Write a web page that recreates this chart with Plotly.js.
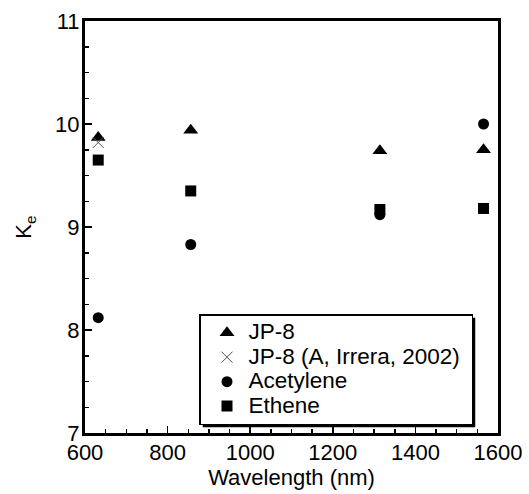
<!DOCTYPE html>
<html>
<head>
<meta charset="utf-8">
<script src="https://cdn.plot.ly/plotly-3.0.1.min.js"></script>
<style>html,body{margin:0;padding:0;background:#fff;}#chart{width:529px;height:494px;}</style>
</head>
<body>
<div id="chart"></div>
<script>
const jp8X = [632, 856, 1314, 1565];
const jp8Y = [9.87, 9.94, 9.74, 9.75];
const irreraX = [632];
const irreraY = [9.82];
const acetyleneX = [632, 856, 1314, 1565];
const acetyleneY = [8.12, 8.83, 9.12, 10.0];
const etheneX = [632, 856, 1314, 1565];
const etheneY = [9.65, 9.35, 9.17, 9.18];
const names = ["JP-8", "JP-8 (A, Irrera, 2002)&nbsp;", "Acetylene", "Ethene"];

const font = "Liberation Sans, Arial, sans-serif";
const big = n => '<span style="font-size:22.5px">' + n + '</span>';
const traces = [
  {x: jp8X, y: jp8Y, name: big(names[0]), mode: "markers", type: "scatter",
   marker: {symbol: "triangle-up", size: 13, color: "#000"}},
  {x: irreraX, y: irreraY, name: big(names[1]), mode: "markers", type: "scatter",
   marker: {symbol: "x-thin-open", size: 11, color: "#555", line: {width: 1, color: "#555"}}},
  {x: acetyleneX, y: acetyleneY, name: big(names[2]), mode: "markers", type: "scatter",
   marker: {symbol: "circle", size: 11, color: "#000"}},
  {x: etheneX, y: etheneY, name: big(names[3]), mode: "markers", type: "scatter",
   marker: {symbol: "square", size: 11, color: "#000"}}
];

const px = v => (v - 85) / 413;
const py = v => (433 - v) / 412;

const layout = {
  width: 529, height: 494,
  margin: {l: 85, r: 31, t: 21, b: 61},
  paper_bgcolor: "#fff", plot_bgcolor: "#fff",
  font: {family: font, size: 22, color: "#000"},
  showlegend: true,
  legend: {x: px(199), y: py(314), xanchor: "left", yanchor: "top",
    bgcolor: "#fff", bordercolor: "#000", borderwidth: 1.5,
    indentation: 5, itemwidth: 33,
    font: {family: font, size: 16.5, color: "#000"}, tracegroupgap: 0},
  xaxis: {range: [600, 1600], tickmode: "linear", tick0: 600, dtick: 200,
    ticks: "inside", ticklen: 7, tickwidth: 1.5, tickcolor: "#000",
    minor: {dtick: 50, ticks: "inside", ticklen: 4, tickwidth: 1.5, tickcolor: "#000"},
    showgrid: false, zeroline: false, showline: true, linewidth: 3, linecolor: "#000", mirror: true,
    tickfont: {family: font, size: 22}, ticklabelstandoff: -2,
    title: {text: "Wavelength (nm)", font: {family: font, size: 22}, standoff: 6}},
  yaxis: {range: [7, 11], tickmode: "linear", tick0: 7, dtick: 1,
    ticks: "inside", ticklen: 7, tickwidth: 1.5, tickcolor: "#000",
    minor: {dtick: 0.25, ticks: "inside", ticklen: 4, tickwidth: 1.5, tickcolor: "#000"},
    showgrid: false, zeroline: false, showline: true, linewidth: 3, linecolor: "#000", mirror: true,
    tickfont: {family: font, size: 22}, ticklabelstandoff: -2,
    title: {text: "K<sub>e</sub>", font: {family: font, size: 22}, standoff: 18}}
};

const gd = document.getElementById("chart");
Plotly.newPlot(gd, traces, layout, {displayModeBar: false, staticPlot: true}).then(() => {
  const bg = gd.querySelector(".legend rect.bg");
  if (!bg) return;
  const r = bg.getBoundingClientRect();
  const d = gd.getBoundingClientRect();
  const L = r.left - d.left, R = r.right - d.left, T = r.top - d.top, B = r.bottom - d.top;
  const off = 3;
  return Plotly.relayout(gd, {shapes: [
    {type: "rect", xref: "paper", yref: "paper", layer: "above",
     x0: px(L + off), x1: px(R + off), y0: py(B + off), y1: py(T + off),
     fillcolor: "#000", line: {width: 0}}
  ]});
});
</script>
</body>
</html>
